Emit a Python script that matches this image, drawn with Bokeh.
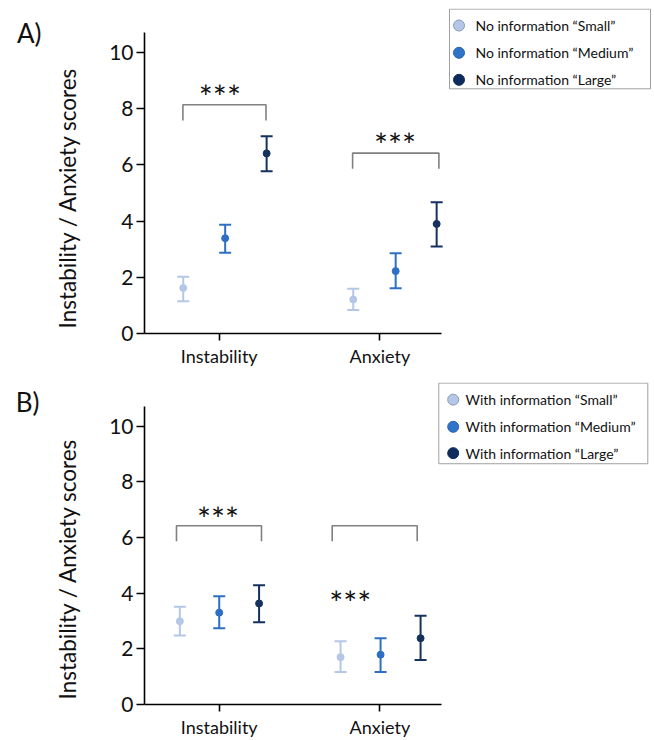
from bokeh.plotting import figure
from bokeh.layouts import column
from bokeh.models import (Range1d, FixedTicker, ColumnDataSource, Whisker, TeeHead,
                          Title, LinearAxis)
from bokeh.core.properties import value
from bokeh.embed import file_html
from bokeh.resources import INLINE

# ---------------- data ----------------
categories = ["Instability", "Anxiety"]
groups = ["Small", "Medium", "Large"]
y_ticks = [0, 2, 4, 6, 8, 10]

# Panel A - no information
a_small_mean = [1.62, 1.21]
a_small_low = [1.15, 0.84]
a_small_high = [2.02, 1.59]
a_medium_mean = [3.39, 2.22]
a_medium_low = [2.87, 1.61]
a_medium_high = [3.87, 2.86]
a_large_mean = [6.41, 3.90]
a_large_low = [5.77, 3.10]
a_large_high = [7.02, 4.67]

# Panel B - with information
b_small_mean = [2.99, 1.70]
b_small_low = [2.48, 1.17]
b_small_high = [3.51, 2.27]
b_medium_mean = [3.30, 1.79]
b_medium_low = [2.74, 1.17]
b_medium_high = [3.89, 2.38]
b_large_mean = [3.63, 2.38]
b_large_low = [2.95, 1.60]
b_large_high = [4.28, 3.19]

a_legend_labels = ["No information \u201cSmall\u201d", "No information \u201cMedium\u201d", "No information \u201cLarge\u201d"]
b_legend_labels = ["With information \u201cSmall\u201d", "With information \u201cMedium\u201d", "With information \u201cLarge\u201d"]

# significance annotations (bracket height, star height), one per category
sig_text = "***"
a_bracket_top = [8.14, 6.42]
a_star_y = [8.65, 6.94]
b_bracket_top = [6.42, 6.42]
b_star_y = [6.91, 3.89]
y_label = "Instability / Anxiety scores"

# ---------------- layout / style ----------------
FONT = "Lato"
COLORS = ["#b4c7e7", "#2e6fc4", "#15325f"]
LEG_FILL = ["#b4c7e7", "#2e74c8", "#0f2b5b"]
LEG_LINE = ["#8a9bb5", "#2a62ad", "#0f2b5b"]
PX_X = 160.7
PX_Y = 28.1
X_START = 0.535
FRAME_LEFT = 144
FRAME_W = 507
FRAME_H = 325
FIG_W = 654
CAT_POS = [1, 2]
LEG_H = 0.56  # bracket leg length (data units)


def build(panel):
    d = panel
    H = d["height"]
    top = d["frame_top"]
    ay = top + FRAME_H

    def sx(px):
        return X_START + (px - FRAME_LEFT) / PX_X

    def sy(py):
        return (ay - py) / PX_Y

    p = figure(width=FIG_W, height=H, output_backend="svg", toolbar_location=None,
               x_range=Range1d(X_START, X_START + FRAME_W / PX_X),
               y_range=Range1d(0, FRAME_H / PX_Y),
               min_border_left=FRAME_LEFT, min_border_right=FIG_W - FRAME_LEFT - FRAME_W,
               min_border_top=top, min_border_bottom=H - FRAME_H - top)
    p.outline_line_color = None
    p.grid.visible = False
    p.background_fill_color = "white"
    p.border_fill_color = "white"

    # axes
    p.yaxis.ticker = FixedTicker(ticks=y_ticks)
    p.yaxis.bounds = (0, 10.7)
    p.xaxis.ticker = FixedTicker(ticks=CAT_POS)
    p.xaxis.major_label_overrides = {c: lab for c, lab in zip(CAT_POS, categories)}
    p.xaxis.bounds = (X_START, 2.385)
    for ax in (p.xaxis, p.yaxis):
        ax.axis_line_color = "black"
        ax.axis_line_width = 1.6
        ax.major_tick_line_color = "black"
        ax.major_tick_line_width = 1.6
        ax.major_tick_in = 0
        ax.minor_tick_line_color = None
        ax.major_label_text_font = FONT
        ax.major_label_text_color = "#111111"
    p.yaxis.major_tick_out = 8
    p.yaxis.major_label_standoff = 3
    p.yaxis.major_label_text_font_size = "21px"
    p.xaxis.major_tick_out = 7
    p.xaxis.major_label_standoff = 4
    p.xaxis.major_label_text_font_size = "18px"
    # blank spacer label: keeps a gap between the tick labels and the title
    p.yaxis.axis_label = " "
    p.yaxis.axis_label_text_font_size = "1px"
    p.yaxis.axis_label_standoff = 22

    # y axis title (side panel title, starting at the bottom of the axis)
    p.add_layout(Title(text=y_label, align="left", offset=5, standoff=0,
                       text_font=FONT, text_font_size="22.5px", text_font_style="normal",
                       text_color="#111111"), "left")

    # panel letter: label of an outer, otherwise invisible, left axis
    letter_axis = LinearAxis(ticker=FixedTicker(ticks=[]), axis_line_color=None,
                             major_tick_line_color=None, minor_tick_line_color=None,
                             axis_label="\n" + d["letter"], axis_label_orientation="horizontal",
                             axis_label_align="end", axis_label_standoff=d["letter_so"],
                             axis_label_text_line_height=d["letter_lh"],
                             axis_label_text_font=FONT, axis_label_text_font_size="26px",
                             axis_label_text_font_style="normal", axis_label_text_color="#111111")
    p.add_layout(letter_axis, "left")

    # error bars and means
    for gi in range(3):
        xs = [CAT_POS[ci] + d["offsets"][ci][gi] for ci in range(2)]
        src = ColumnDataSource(dict(x=xs, y=d["means"][gi], lo=d["lows"][gi], hi=d["highs"][gi]))
        c = COLORS[gi]
        p.add_layout(Whisker(source=src, base="x", lower="lo", upper="hi", dimension="height",
                             line_color=c, line_width=2,
                             lower_head=TeeHead(size=12, line_color=c, line_width=2),
                             upper_head=TeeHead(size=12, line_color=c, line_width=2)))
        p.scatter("x", "y", source=src, size=7, color=c)

    # significance brackets
    bx, by = [], []
    for ci in range(2):
        x0 = CAT_POS[ci] + d["br"][ci][0]
        x1 = CAT_POS[ci] + d["br"][ci][1]
        t = d["bracket_top"][ci]
        bx.append([x0, x0, x1, x1])
        by.append([t - LEG_H, t, t, t - LEG_H])
    p.multi_line(bx, by, line_color="#808080", line_width=1.6)
    p.text(x=[CAT_POS[ci] + d["star_dx"][ci] for ci in range(2)], y=d["star_y"],
           text=[sig_text, sig_text], text_font=value(FONT), text_font_size="33px",
           text_align="center", text_baseline="alphabetic", y_offset=6, text_color="#111111")

    # legend (box, markers, labels)
    lb = d["legend_box"]
    p.quad(left=[sx(lb[0])], right=[sx(lb[1])], top=[sy(lb[2])], bottom=[sy(lb[3])],
           fill_color="white", line_color="#a0a0a0", line_width=1)
    ly = [sy(v) for v in d["legend_items"]]
    p.scatter(x=[sx(d["legend_marker_x"])] * 3, y=ly, size=11, fill_color=LEG_FILL,
              line_color=LEG_LINE, line_width=1)
    p.text(x=[sx(d["legend_text_x"])] * 3, y=ly, text=d["labels"], text_font=value(FONT),
           text_font_size="14px", text_baseline="middle", text_color="#111111")
    return p


panel_a = dict(
    height=382, frame_top=8,
    means=[a_small_mean, a_medium_mean, a_large_mean],
    lows=[a_small_low, a_medium_low, a_large_low],
    highs=[a_small_high, a_medium_high, a_large_high],
    offsets=[[-0.224, 0.037, 0.295], [-0.166, 0.098, 0.353]],
    br=[(-0.226, 0.291), (-0.170, 0.367)],
    star_dx=[0.004, 0.094],
    bracket_top=a_bracket_top, star_y=a_star_y,
    labels=a_legend_labels,
    legend_box=(449, 650, 8.6, 88.3), legend_marker_x=458.5, legend_text_x=475,
    legend_items=[25, 52.3, 79.3],
    letter="A)", letter_lh=1.55, letter_so=10,
)
panel_b = dict(
    height=358, frame_top=0,
    means=[b_small_mean, b_medium_mean, b_large_mean],
    lows=[b_small_low, b_medium_low, b_large_low],
    highs=[b_small_high, b_medium_high, b_large_high],
    offsets=[[-0.245, 0.0, 0.248], [-0.245, 0.004, 0.253]],
    br=[(-0.266, 0.263), (-0.297, 0.232)],
    star_dx=[-0.007, -0.185],
    bracket_top=b_bracket_top, star_y=b_star_y,
    labels=b_legend_labels,
    legend_box=(438.3, 647.3, 0.6, 82), legend_marker_x=452.7, legend_text_x=465,
    legend_items=[17.3, 44.7, 71.3],
    letter="B)", letter_lh=1.2, letter_so=12,
)

pa = build(panel_a)
pb = build(panel_b)
layout = column(pa, pb, spacing=0)
open("out.html", "w").write(file_html(layout, INLINE))
